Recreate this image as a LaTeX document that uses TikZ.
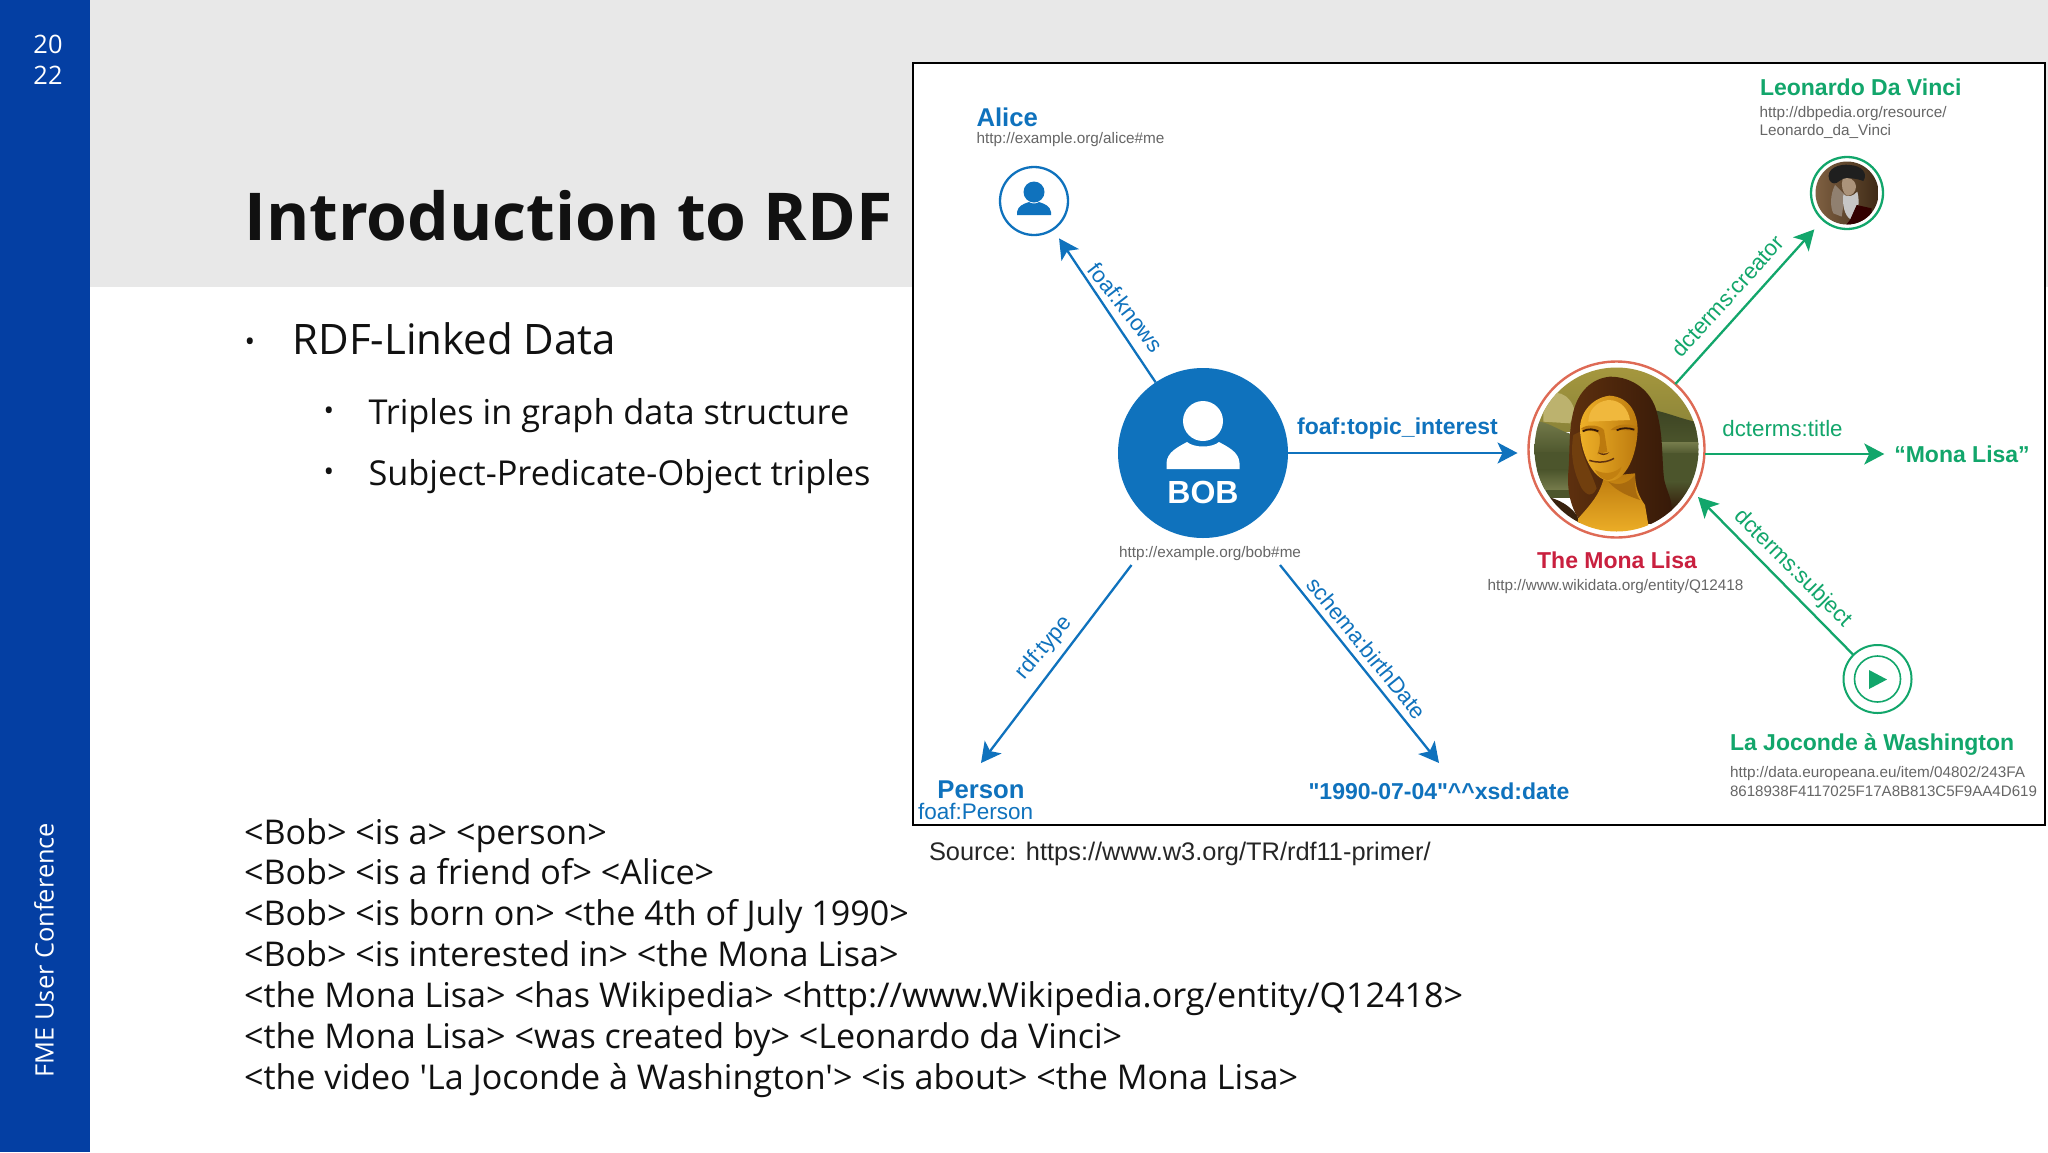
\documentclass[tikz,border=0pt]{standalone}
\usepackage{fontspec}
\usetikzlibrary{arrows.meta,calc}
\newfontfamily\osans{Open Sans}
\newfontfamily\lib{Liberation Sans}
\newcommand{\fsz}[1]{\fontsize{#1}{#1}\selectfont}
\definecolor{barblue}{HTML}{043FA3}
\definecolor{bandgrey}{HTML}{E8E8E8}
\definecolor{dblue}{HTML}{0F72BD}
\definecolor{dgreen}{HTML}{12A66B}
\definecolor{dred}{HTML}{C9203F}
\definecolor{dring}{HTML}{DE6A55}
\definecolor{dgrey}{HTML}{666666}
\definecolor{slidetext}{HTML}{111111}
\definecolor{hairdk}{HTML}{341808}
\definecolor{hairmd}{HTML}{5E300E}
\definecolor{skin}{HTML}{E2A01A}
\definecolor{skinhi}{HTML}{EEB028}
\definecolor{skinsh}{HTML}{BC7A0E}
\definecolor{sky}{HTML}{A6983E}
\definecolor{land}{HTML}{4C552C}
\definecolor{landhi}{HTML}{767C4C}
\tikzset{
  every node/.style={inner sep=0pt,outer sep=0pt},
  slidetxt/.style={font=\osans\fsz{34.1},text=slidetext,anchor=base west},
  bul/.style={font=\osans\fsz{28},text=slidetext,anchor=center},
  sidetxt/.style={font=\osans\fsz{25.4},text=white,anchor=center},
  uri/.style={font=\lib\fsz{15.3},text=dgrey,anchor=west},
  bluelbl/.style={font=\lib\fsz{22.3},text=dblue,anchor=center},
  greenlbl/.style={font=\lib\fsz{22.3},text=dgreen,anchor=center},
  bluename/.style={font=\lib\bfseries\fsz{25.7},text=dblue},
  greenname/.style={font=\lib\bfseries\fsz{23},text=dgreen},
  blink/.style={draw=dblue,line width=2.3pt,-{Stealth[length=20pt,width=21pt,inset=5pt]}},
  glink/.style={draw=dgreen,line width=2.3pt,-{Stealth[length=20pt,width=21pt,inset=5pt]}},
}
\begin{document}
\begin{tikzpicture}[x=1pt,y=-1pt]
\useasboundingbox (0,0) rectangle (2048,1152);
\fill[white] (0,0) rectangle (2048,1152);
\fill[bandgrey] (90,0) rectangle (2048,287);
\fill[barblue] (0,0) rectangle (90,1152);
% sidebar
\node[sidetxt] (yeara) at (48,44) {20};
\node[sidetxt] (yearb) at (48,75) {22};
\node[sidetxt,rotate=90] (conf) at (44,950) {FME User Conference};
% slide text
\node[font=\osans\bfseries\fsz{66},anchor=base west,text=slidetext] (title) at (244.5,240) {Introduction to RDF};
\node[bul] (b1) at (250,345) {•};
\node[font=\osans\fsz{42},anchor=base west,text=slidetext] (h1) at (292.5,354.3) {RDF-Linked Data};
\node[bul] (b2) at (329,414) {•};
\node[bul] (b3) at (329,475) {•};
\node[slidetxt,font=\osans\fsz{34.3}] (s1) at (368.5,424) {Triples in graph data structure};
\node[slidetxt,font=\osans\fsz{34.3}] (s2) at (368.5,485) {Subject-Predicate-Object triples};
\node[slidetxt] (l1) at (244,844) {<Bob> <is a> <person>};
\node[slidetxt] (l2) at (244,884.7) {<Bob> <is a friend of> <Alice>};
\node[slidetxt] (l3) at (244,925.5) {<Bob> <is born on> <the 4th of July 1990>};
\node[slidetxt] (l4) at (244,966.5) {<Bob> <is interested in> <the Mona Lisa>};
\node[slidetxt] (l5) at (244,1007) {<the Mona Lisa> <has Wikipedia> <http://www.Wikipedia.org/entity/Q12418>};
\node[slidetxt] (l6) at (244,1048.5) {<the Mona Lisa> <was created by> <Leonardo da Vinci>};
\node[slidetxt] (l7) at (244,1089) {<the video 'La Joconde à Washington'> <is about> <the Mona Lisa>};
% diagram frame
\draw[fill=white,draw=black,line width=1.6pt] (913,63) rectangle (2045,825);
\node[font=\lib\fsz{25.4},text=black!85,anchor=west] (src) at (929,854) {Source: https://www.w3.org/TR/rdf11-primer/};
% BOB
\node[circle,fill=dblue,minimum size=170pt] (bob) at (1203,453) {};
\fill[white] (1203,421) circle (20);
\fill[white] (1166.5,469) -- (1166.5,463) .. controls (1167,452) and (1178,447) .. (1187,442) .. controls (1194,448) and (1212,448) .. (1219,442) .. controls (1228,447) and (1239,452) .. (1239.5,463) -- (1239.5,469) -- cycle;
\node[font=\lib\bfseries\fsz{32},text=white] (bobt) at (1203,492) {BOB};
\node[uri,anchor=center] (boburi) at (1210,553.5) {http://example.org/bob\#me};
% Alice
\node[circle,draw=dblue,line width=2.3pt,fill=white,minimum size=68pt] (alice) at (1034,201) {};
\fill[dblue] (1034,192) circle (10.5);
\fill[dblue] (1017,215) -- (1017,212) .. controls (1018,206) and (1023,204) .. (1029,202) .. controls (1031,204) and (1037,204) .. (1039,202) .. controls (1045,204) and (1050,206) .. (1051,212) -- (1051,215) -- cycle;
\node[bluename,anchor=west] (alicet) at (976.5,117) {Alice};
\node[uri] (aliceuri) at (976.5,140) {http://example.org/alice\#me};
% Mona Lisa
\node[circle,draw=dring,line width=2.4pt,fill=white,minimum size=176pt] (mona) at (1616.5,449.5) {};
\begin{scope}
\clip (1616.5,449.5) circle (82);
\begin{scope}[shift={(1520,355)},x=0.3333pt,y=-0.3333pt]
% sky and landscape
\shade[top color=sky,bottom color=sky!70!land] (30,30) rectangle (550,230);
\fill[sky!75!white] (70,130) .. controls (100,100) and (150,110) .. (165,170) -- (150,205) -- (70,200) -- cycle;
\shade[top color=landhi,bottom color=land] (30,200) .. controls (80,190) and (120,235) .. (170,240) -- (170,300) -- (30,300) -- cycle;
\fill[land] (30,290) rectangle (170,430);
\shade[top color=land,bottom color=landhi] (30,345) rectangle (170,405);
\shade[top color=land!80!black,bottom color=land] (400,165) .. controls (450,175) and (490,195) .. (550,205) -- (550,270) -- (400,270) -- cycle;
\shade[top color=landhi,bottom color=land] (400,262) rectangle (550,300);
\fill[land] (400,295) rectangle (550,400);
\shade[top color=land,bottom color=hairdk] (400,380) rectangle (550,470);
\fill[hairdk!85!land] (30,420) .. controls (90,420) and (140,440) .. (170,480) -- (200,550) -- (30,550) -- cycle;
% hair
\shade[left color=hairmd,right color=hairdk] (270,65) .. controls (215,70) and (175,110) .. (160,170) .. controls (145,230) and (150,300) .. (145,350) .. controls (140,410) and (155,460) .. (175,490) -- (430,510) .. controls (480,460) and (440,420) .. (432,370) .. controls (425,310) and (430,240) .. (410,170) .. controls (395,110) and (340,65) .. (270,65) -- cycle;
\fill[hairmd!80!skinsh] (160,240) .. controls (150,300) and (160,350) .. (185,400) .. controls (200,420) and (215,430) .. (230,400) .. controls (210,340) and (175,290) .. (180,230) -- cycle;
% neck and chest
\shade[top color=skinsh,bottom color=skinhi] (252,365) -- (345,355) .. controls (345,400) and (360,430) .. (375,450) -- (390,540) -- (165,540) -- (175,490) .. controls (210,450) and (240,420) .. (252,365) -- cycle;
\fill[skinsh!80!hairmd] (265,380) .. controls (295,395) and (325,385) .. (345,360) .. controls (345,395) and (345,415) .. (360,435) .. controls (330,425) and (290,410) .. (265,380) -- cycle;
% face
\shade[left color=skinhi,right color=skinsh] (268,122) .. controls (210,130) and (178,180) .. (180,225) .. controls (182,290) and (215,370) .. (265,378) .. controls (310,380) and (345,320) .. (352,240) .. controls (358,180) and (330,125) .. (268,122) -- cycle;
\fill[skinhi!90!white] (265,135) .. controls (225,140) and (205,170) .. (205,200) -- (330,195) .. controls (325,165) and (305,135) .. (265,135) -- cycle;
% brows, eyes, nose, mouth
\fill[skinsh] (182,222) .. controls (200,205) and (240,210) .. (252,225) -- (262,290) -- (232,298) .. controls (245,260) and (240,235) .. (232,232) .. controls (215,225) and (195,228) .. (182,222) -- cycle;
\fill[skinsh] (272,225) .. controls (290,205) and (330,205) .. (350,215) -- (350,230) .. controls (325,225) and (295,225) .. (272,225) -- cycle;
\draw[hairdk,line width=1.8pt] (188,229) .. controls (205,220) and (220,222) .. (235,229);
\draw[hairdk,line width=1.8pt] (290,226) .. controls (305,218) and (325,218) .. (343,224);
\fill[hairmd] (234,292) .. controls (242,303) and (258,303) .. (268,292) .. controls (258,297) and (244,297) .. (234,292) -- cycle;
\draw[hairmd,line width=1.5pt] (208,316) .. controls (235,325) and (262,322) .. (282,310);
\fill[skinsh!85!skin] (225,345) .. controls (255,360) and (285,355) .. (305,335) .. controls (300,360) and (275,375) .. (262,376) .. controls (245,372) and (232,360) .. (225,345) -- cycle;
\end{scope}
\end{scope}
\node[greenname,text=dred,anchor=center] (monat) at (1617,560.5) {The Mona Lisa};
\node[uri,anchor=center] (monauri) at (1615.5,587) {http://www.wikidata.org/entity/Q12418};
% Leonardo
\node[circle,draw=dgreen,line width=2.3pt,fill=white,minimum size=72pt] (leo) at (1847,193) {};
\begin{scope}
\clip (1847,193) circle (31.5);
\begin{scope}[shift={(1800,145)},x=0.3333pt,y=-0.3333pt]
\shade[left color=black!30!brown!70!gray,right color=black!70!brown] (30,30) rectangle (250,250);
\fill[black!88] (88,105) .. controls (75,70) and (120,55) .. (150,60) .. controls (185,62) and (205,85) .. (190,108) .. controls (170,100) and (135,95) .. (118,108) .. controls (108,118) and (95,118) .. (88,105) -- cycle;
\fill[gray!75!brown] (105,120) .. controls (90,150) and (90,185) .. (100,205) -- (125,215) -- (135,150) -- cycle;
\fill[brown!45!gray!85!white] (128,102) .. controls (145,95) and (165,100) .. (168,125) .. controls (168,140) and (155,155) .. (140,152) .. controls (128,145) and (122,120) .. (128,102) -- cycle;
\fill[gray!45] (130,148) .. controls (145,160) and (160,152) .. (172,140) .. controls (180,170) and (175,205) .. (160,225) .. controls (140,225) and (125,190) .. (130,148) -- cycle;
\fill[black!80!red] (170,180) -- (215,190) -- (215,250) -- (130,250) -- (150,225) -- cycle;
\end{scope}
\end{scope}
\node[greenname,anchor=west] (leot) at (1760,87) {Leonardo Da Vinci};
\node[uri] (leouri1) at (1759.5,113.5) {http://dbpedia.org/resource/};
\node[uri] (leouri2) at (1759.5,131) {Leonardo\_da\_Vinci};
% Washington
\node[circle,draw=dgreen,line width=2pt,fill=white,minimum size=68pt] (wash) at (1877.5,679) {};
\node[circle,draw=dgreen,line width=1.6pt,minimum size=46pt] (washin) at (1877.5,679) {};
\fill[dgreen] (1869,670) -- (1887,679.5) -- (1869,689) -- cycle;
\node[greenname,anchor=west] (washt) at (1730,744.5) {La Joconde à Washington};
\node[uri] (washuri1) at (1730,774) {http://data.europeana.eu/item/04802/243FA};
\node[uri,font=\lib\fsz{15.1}] (washuri2) at (1730,791.5) {8618938F4117025F17A8B813C5F9AA4D619};
% literals
\node[greenname,anchor=center] (lit) at (1962,454) {“Mona Lisa”};
\node[bluename,font=\lib\bfseries\fsz{23},anchor=center] (date) at (1439,791) {"1990-07-04"\textasciicircum\textasciicircum xsd:date};
\node[bluename,anchor=center] (person) at (981,790) {Person};
\node[bluelbl,font=\lib\fsz{22.5},anchor=center] (persont) at (975.6,811) {foaf:Person};
% connector ends
\coordinate (typeS) at (1131.5,565);
\coordinate (typeE) at (981,763);
\coordinate (dateS) at (1280,565);
\coordinate (dateE) at (1439,763);
\coordinate (subjE) at (1698,497);
% connectors
\draw[blink,shorten >=11pt] (bob) -- (alice);
\draw[blink,shorten >=11pt] (bob.east) -- (bob.east -| mona.west);
\draw[blink] (typeS) -- (typeE);
\draw[blink] (dateS) -- (dateE);
\draw[glink,shorten >=13pt] (mona) -- (leo);
\draw[glink,shorten >=10pt] (mona.east |- lit) -- (lit.west);
\draw[glink] (wash.135.7) -- (subjE);
% connector labels
\node[bluelbl,rotate=-52] (lknows) at (1126,307.5) {foaf:knows};
\node[bluelbl,font=\lib\bfseries\fsz{23},anchor=center] (ltopic) at (1397.5,429) {foaf:topic\_interest};
\node[bluelbl,rotate=49.6] (ltype) at (1044.5,648) {rdf:type};
\node[bluelbl,rotate=-51] (lbirth) at (1367,648) {schema:birthDate};
\node[greenlbl,rotate=48] (lcreator) at (1727.5,296) {dcterms:creator};
\node[greenlbl] (ltitle) at (1782.5,429) {dcterms:title};
\node[greenlbl,rotate=-45] (lsubject) at (1792.5,568.5) {dcterms:subject};
\end{tikzpicture}
\end{document}
